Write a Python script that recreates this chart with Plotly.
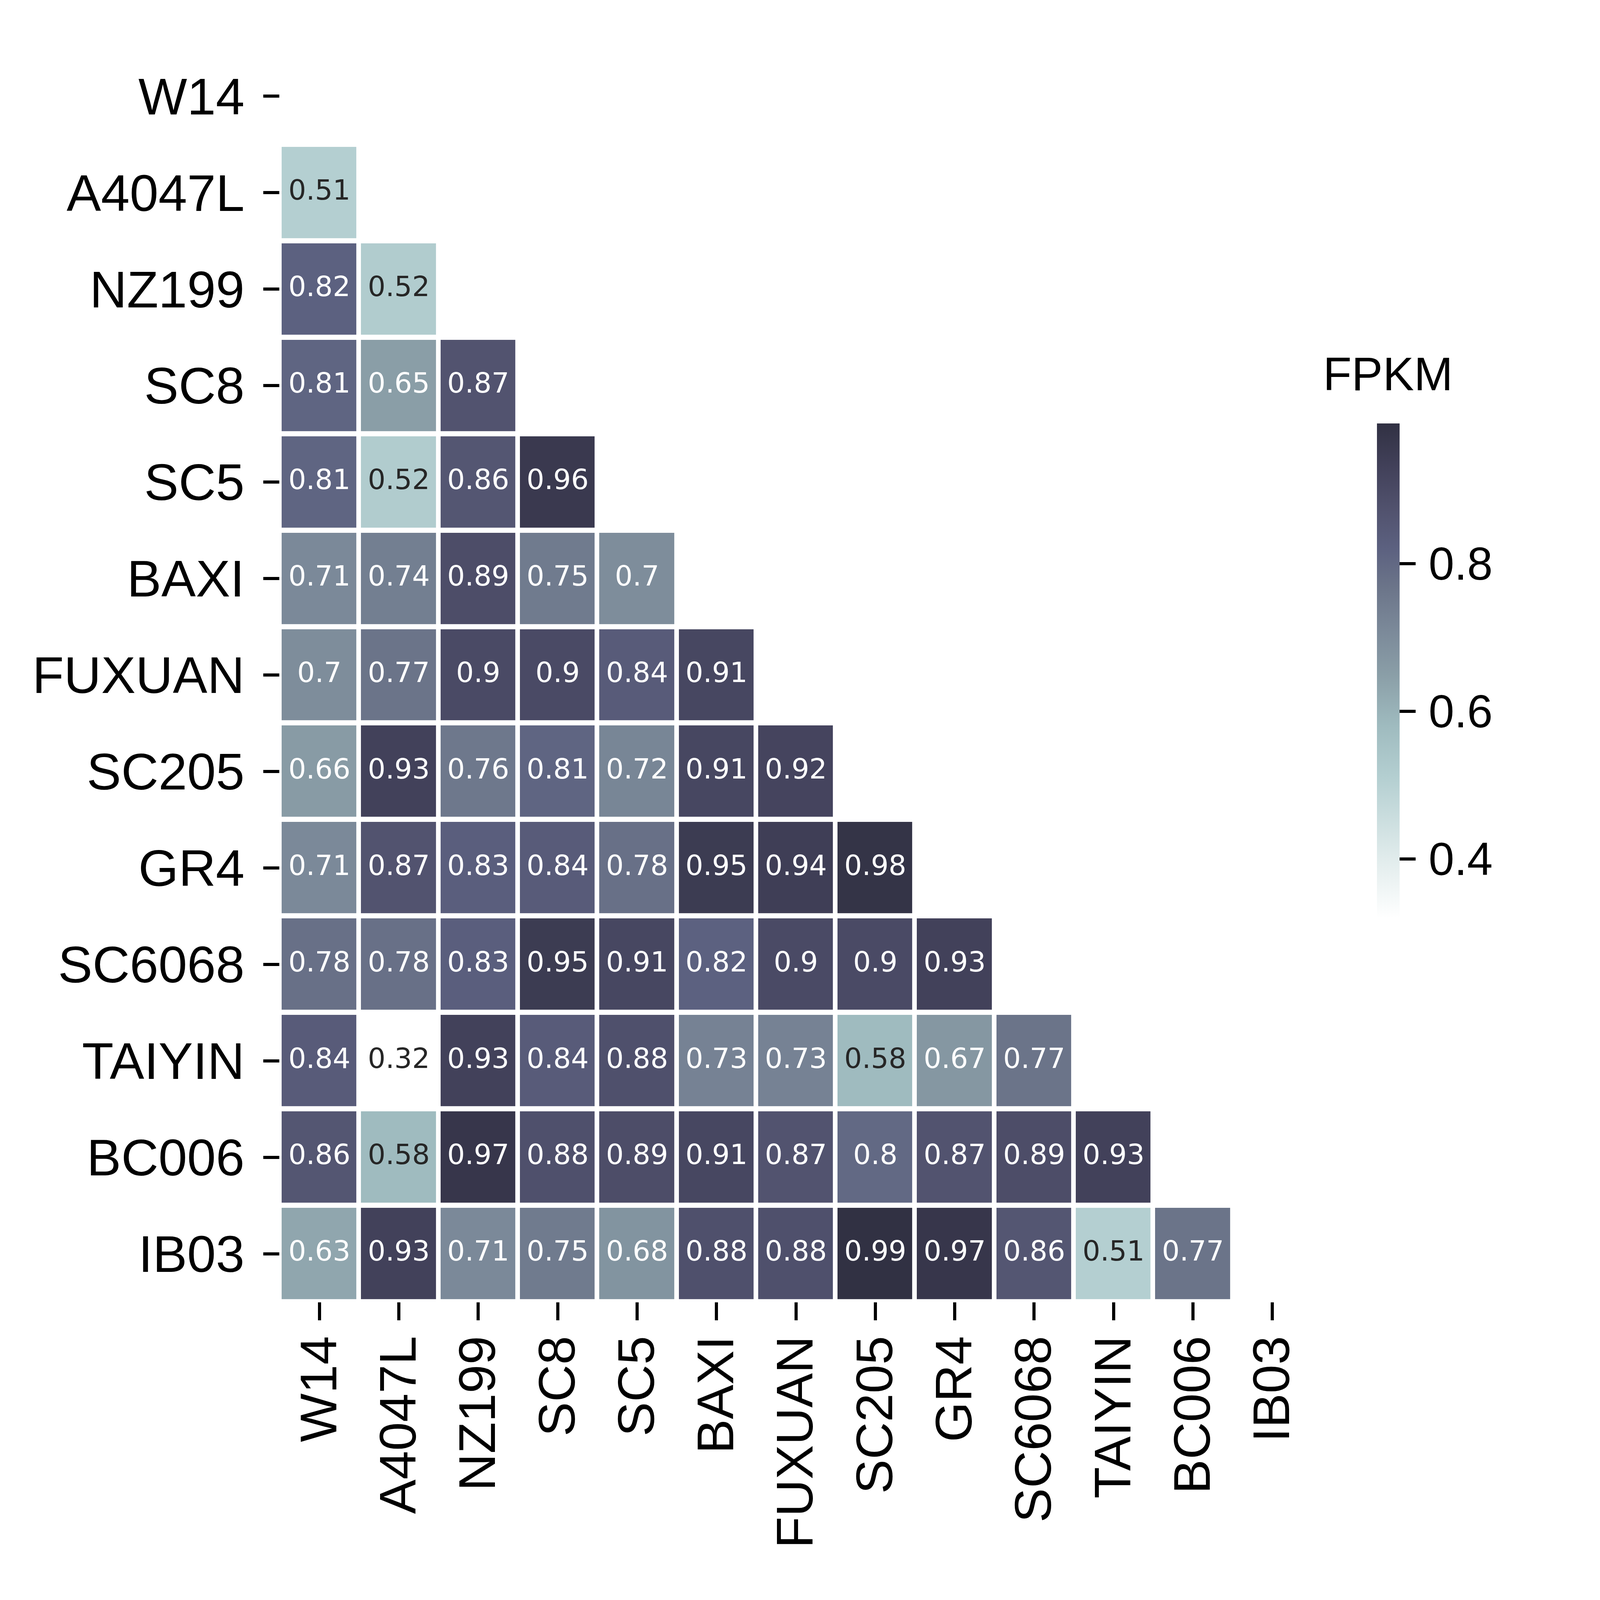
import plotly.graph_objects as go

# ---- data -------------------------------------------------------------
labels = ["W14", "A4047L", "NZ199", "SC8", "SC5", "BAXI", "FUXUAN",
          "SC205", "GR4", "SC6068", "TAIYIN", "BC006", "IB03"]

row_W14 = []
row_A4047L = [0.51]
row_NZ199 = [0.82, 0.52]
row_SC8 = [0.81, 0.65, 0.87]
row_SC5 = [0.81, 0.52, 0.86, 0.96]
row_BAXI = [0.71, 0.74, 0.89, 0.75, 0.70]
row_FUXUAN = [0.70, 0.77, 0.90, 0.90, 0.84, 0.91]
row_SC205 = [0.66, 0.93, 0.76, 0.81, 0.72, 0.91, 0.92]
row_GR4 = [0.71, 0.87, 0.83, 0.84, 0.78, 0.95, 0.94, 0.98]
row_SC6068 = [0.78, 0.78, 0.83, 0.95, 0.91, 0.82, 0.90, 0.90, 0.93]
row_TAIYIN = [0.84, 0.32, 0.93, 0.84, 0.88, 0.73, 0.73, 0.58, 0.67, 0.77]
row_BC006 = [0.86, 0.58, 0.97, 0.88, 0.89, 0.91, 0.87, 0.80, 0.87, 0.89, 0.93]
row_IB03 = [0.63, 0.93, 0.71, 0.75, 0.68, 0.88, 0.88, 0.99, 0.97, 0.86, 0.51, 0.77]

rows = [row_W14, row_A4047L, row_NZ199, row_SC8, row_SC5, row_BAXI, row_FUXUAN,
        row_SC205, row_GR4, row_SC6068, row_TAIYIN, row_BC006, row_IB03]

cbar_ticks = [0.4, 0.6, 0.8]
zmin, zmax = 0.32, 0.99

# colour stops (value -> colour)
stop_values = [0.32, 0.40, 0.51, 0.58, 0.65, 0.71, 0.77, 0.82, 0.87, 0.93, 0.99]
stop_colors = ["#ffffff", "#e1ecec", "#b4cfd1", "#9fbbbf", "#8a9ea7", "#7b8999",
               "#6b7489", "#5c6180", "#52536f", "#42415a", "#313143"]

# ---- build -------------------------------------------------------------
n = len(labels)
z = [r + [None] * (n - len(r)) for r in rows]
colorscale = [[(v - zmin) / (zmax - zmin), c] for v, c in zip(stop_values, stop_colors)]

tx, ty, tt, tc = [], [], [], []
for i, r in enumerate(rows):
    for j, v in enumerate(r):
        tx.append(labels[j])
        ty.append(labels[i])
        tt.append(f"{v:.2g}")
        tc.append("#262626" if v <= 0.6 else "#ffffff")

W, H = 4840, 4347
L, R, T, B = 846, 3969, 131, 3537
px = lambda x: (x - L) / (R - L)      # pixel -> paper (x)
py = lambda y: (B - y) / (B - T)      # pixel -> paper (y)

fig = go.Figure()
fig.add_trace(go.Heatmap(
    z=z, x=labels, y=labels, zmin=zmin, zmax=zmax,
    colorscale=colorscale, xgap=14, ygap=14, hoverongaps=False,
    colorbar=dict(
        thickness=68, thicknessmode="pixels",
        len=1344, lenmode="pixels",
        x=px(4165), xanchor="left",
        y=py(1822), yanchor="middle",
        xpad=0, ypad=0, outlinewidth=0,
        tickmode="array", tickvals=cbar_ticks,
        ticktext=["\u200a" + f"{t:.1f}" for t in cbar_ticks],
        ticks="outside", ticklen=49, tickwidth=9, tickcolor="black",
        tickfont=dict(family="Liberation Sans", size=132, color="black"),
    ),
))
fig.add_trace(go.Scatter(
    x=tx, y=ty, text=tt, mode="text",
    textfont=dict(family="DejaVu Sans", size=80, color=tc),
    hoverinfo="skip", showlegend=False,
))

fig.add_annotation(
    text="FPKM", x=px(4198), y=py(1016),
    xref="paper", yref="paper", xanchor="center", yanchor="middle",
    showarrow=False, font=dict(family="Liberation Sans", size=134, color="black"),
)

fig.update_layout(
    width=W, height=H,
    margin=dict(l=L, r=W - R, t=T, b=H - B, pad=0),
    paper_bgcolor="white", plot_bgcolor="white",
    showlegend=False,
)
fig.update_xaxes(
    type="category", categoryorder="array", categoryarray=labels,
    range=[-0.5, n - 0.5], showgrid=False, zeroline=False, showline=False,
    ticks="outside", ticklen=49, tickwidth=9, tickcolor="black",
    tickangle=-90, ticklabelstandoff=-14,
    tickfont=dict(family="Liberation Sans", size=148, color="black"),
)
fig.update_yaxes(
    type="category", categoryorder="array", categoryarray=labels,
    range=[n - 0.5, -0.5], showgrid=False, zeroline=False, showline=False,
    ticks="outside", ticklen=49, tickwidth=9, tickcolor="black",
    ticklabelstandoff=25,
    tickfont=dict(family="Liberation Sans", size=148, color="black"),
)

# If the browser viewport is not the 4840x4347 the figure was laid out for,
# rescale the same figure so that it fills the viewport proportionally.
fit_js = """
(function(){
  var gd = document.getElementById('{plot_id}');
  document.documentElement.style.margin = '0';
  document.body.style.margin = '0';
  document.body.style.overflow = 'hidden';
  var W0 = %d, H0 = %d;
  var Wv = window.innerWidth, Hv = window.innerHeight;
  if (!Wv || !Hv) { return; }
  var sx = Wv / W0, sy = Hv / H0, s = Math.sqrt(sx * sy);
  var data = JSON.parse(JSON.stringify(gd.data));
  var lay = JSON.parse(JSON.stringify(gd.layout));
  lay.width = Wv; lay.height = Hv;
  lay.margin.l *= sx; lay.margin.r *= sx; lay.margin.t *= sy; lay.margin.b *= sy;
  ['xaxis', 'yaxis'].forEach(function(k){
    var a = lay[k], f = (k === 'xaxis') ? sy : sx;
    a.tickfont.size *= s; a.ticklen *= f; a.tickwidth *= s;
    a.ticklabelstandoff = Math.round(a.ticklabelstandoff * f);
  });
  (lay.annotations || []).forEach(function(an){ an.font.size *= s; });
  var hm = data[0];
  hm.xgap *= sx; hm.ygap *= sy;
  var cb = hm.colorbar;
  cb.thickness *= sx; cb.len *= sy; cb.ticklen *= sx; cb.tickwidth *= s;
  cb.tickfont.size *= s;
  data[1].textfont.size *= s;
  gd.style.width = Wv + 'px'; gd.style.height = Hv + 'px';
  return Plotly.newPlot(gd, data, lay, {displayModeBar: false});
})();
""" % (W, H)

fig.write_html("out.html", post_script=fit_js, config={"displayModeBar": False})
